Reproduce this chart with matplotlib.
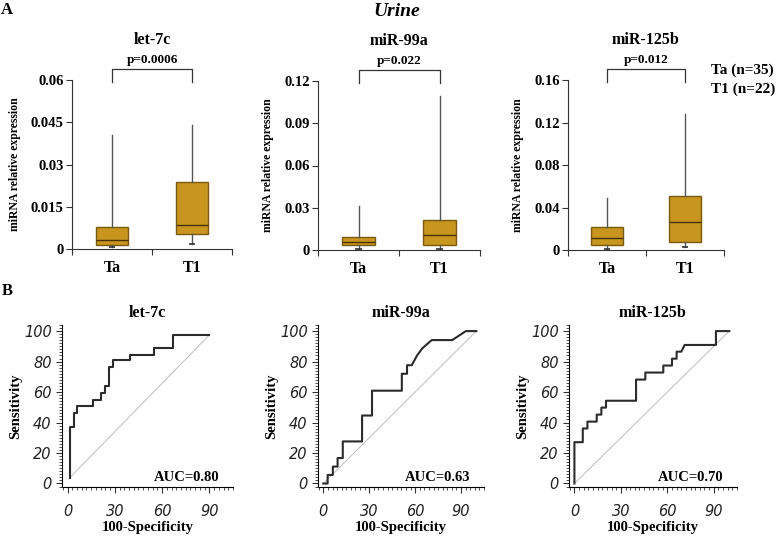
import matplotlib
matplotlib.use('Agg')
import matplotlib.pyplot as plt
from matplotlib.ticker import MultipleLocator

# ---- data ----
groups = ['Ta', 'T1']
mirnas = ['let-7c', 'miR-99a', 'miR-125b']
pvals = ['p=0.0006', 'p=0.022', 'p=0.012']
ymax = [0.06, 0.12, 0.16]
yticks = [[0, 0.015, 0.03, 0.045, 0.06],
          [0, 0.03, 0.06, 0.09, 0.12],
          [0, 0.04, 0.08, 0.12, 0.16]]
ytick_labels = [['0', '0.015', '0.03', '0.045', '0.06'],
                ['0', '0.03', '0.06', '0.09', '0.12'],
                ['0', '0.04', '0.08', '0.12', '0.16']]

# box stats per miRNA: [Ta, T1] -> (whislo, q1, med, q3, whishi)
let7c_box = [(0.0007, 0.0014, 0.0031, 0.0079, 0.0404),
             (0.0018, 0.0052, 0.0085, 0.0239, 0.0439)]
mir99a_box = [(0.0007, 0.0035, 0.0059, 0.0094, 0.0314),
              (0.0009, 0.0033, 0.0106, 0.0213, 0.1094)]
mir125b_box = [(0.0009, 0.0044, 0.0113, 0.0216, 0.0488),
               (0.0028, 0.0078, 0.0266, 0.0507, 0.1284)]
boxes = [let7c_box, mir99a_box, mir125b_box]

# ROC curves (100-specificity, sensitivity)
let7c_fpr = [1.5, 1.5, 4.0, 4.0, 6.1, 6.1, 16.3, 16.3, 21.4, 21.4, 23.9, 23.9,
             26.5, 26.5, 29.0, 29.0, 39.6, 39.6, 54.9, 54.9, 67.1, 67.1, 90.0]
let7c_tpr = [3.9, 37.0, 37.0, 46.0, 46.0, 50.9, 50.9, 54.6, 54.6, 59.2, 59.2, 63.7,
             63.7, 76.3, 76.3, 80.9, 80.9, 84.4, 84.4, 88.9, 88.9, 97.4, 97.4]
mir99a_fpr = [0, 2.8, 2.8, 6.2, 6.2, 9.3, 9.3, 12.7, 12.7, 25.3, 25.3, 31.8, 31.8,
              51.3, 51.3, 54.7, 54.7, 57.8, 61.2, 64.7, 70.8, 84.2, 93.2, 100]
mir99a_tpr = [0, 0, 5.6, 5.6, 11.1, 11.1, 16.7, 16.7, 27.6, 27.6, 44.6, 44.6, 60.9,
              60.9, 72.0, 72.0, 77.6, 77.6, 83.9, 88.7, 94.1, 94.1, 100, 100]
mir125b_fpr = [0, 0, 5.4, 5.4, 8.4, 8.4, 14.4, 14.4, 17.4, 17.4, 20.4, 20.4, 39.8,
               39.8, 45.8, 45.8, 57.4, 57.4, 63.0, 63.0, 66.0, 66.0, 69.0, 71.2,
               91.4, 91.4, 100]
mir125b_tpr = [0, 27.1, 27.1, 36.1, 36.1, 40.6, 40.6, 45.2, 45.2, 49.8, 49.8, 54.3,
               54.3, 68.2, 68.2, 72.8, 72.8, 77.4, 77.4, 81.9, 81.9, 86.5, 86.5, 90.9,
               90.9, 100, 100]
diag_start = [(1.5, 3.9), (0, 0), (0, 0)]
diag_end = [(90, 97.4), (100, 100), (100, 100)]
rocs = [(let7c_fpr, let7c_tpr), (mir99a_fpr, mir99a_tpr), (mir125b_fpr, mir125b_tpr)]
aucs = ['AUC=0.80', 'AUC=0.63', 'AUC=0.70']

W, H = 778, 537
SERIF = 'Liberation Serif'
BOX_FILL = '#c8961e'
BOX_EDGE = '#7a5a12'

fig = plt.figure(figsize=(W / 100, H / 100), dpi=100)


def add_ax(l, t, r, b):
    return fig.add_axes([l / W, 1 - b / H, (r - l) / W, (b - t) / H])


def ftext(x, y, s, **kw):
    fig.text(x / W, 1 - y / H, s, **kw)


# ---- panel A: box plots ----
a_rects = [(72, 80, 232, 249), (318, 81, 480, 250), (568, 80, 724, 250)]
for i, (l, t, r, b) in enumerate(a_rects):
    ax = add_ax(l, t, r, b)
    stats = []
    for g, (lo, q1, med, q3, hi) in zip(groups, boxes[i]):
        stats.append(dict(whislo=lo, q1=q1, med=med, q3=q3, whishi=hi, label=g))
    ax.bxp(stats, positions=[0.5, 1.5], widths=0.4, showcaps=False, showfliers=False,
           patch_artist=True,
           boxprops=dict(facecolor=BOX_FILL, edgecolor=BOX_EDGE, linewidth=1.0),
           medianprops=dict(color='#4a3208', linewidth=1.0),
           whiskerprops=dict(color='#555555', linewidth=1.0))
    # small lower caps
    for pos, st in zip([0.5, 1.5], boxes[i]):
        ax.hlines(st[0], pos - 0.04, pos + 0.04, color='#333333', linewidth=1.2)
    ax.set_xlim(0, 2)
    ax.set_ylim(0, ymax[i])
    ax.set_xticks([0, 1, 2])
    ax.set_xticklabels([])
    ax.set_xticks([0.5, 1.5], minor=True)
    ax.set_xticklabels(groups, minor=True, fontfamily=SERIF, fontweight='bold', fontsize=11.5)
    ax.tick_params(axis='x', which='minor', length=0, pad=8)
    ax.tick_params(axis='x', which='major', length=4, direction='out', color='#333333')
    ax.set_yticks(yticks[i])
    ax.set_yticklabels(ytick_labels[i], fontfamily=SERIF, fontweight='bold', fontsize=10.5)
    ax.tick_params(axis='y', length=4, direction='out', color='#333333', pad=2)
    for s in ['top', 'right']:
        ax.spines[s].set_visible(False)
    for s in ['left', 'bottom']:
        ax.spines[s].set_color('#333333')
    ax.set_ylabel('miRNA relative expression', fontfamily=SERIF, fontweight='bold',
                  fontsize=8.5, labelpad=7)
    ax.set_title(mirnas[i], fontfamily=SERIF, fontweight='bold', fontsize=11.5, pad=26)
    # significance bracket
    top = ymax[i]
    ax.plot([0.5, 0.5, 1.5, 1.5], [top * 0.99, top * 1.065, top * 1.065, top * 0.99],
            color='#333333', linewidth=0.9, clip_on=False)
    ax.text(1.0, top * 1.08, pvals[i], ha='center', va='bottom', fontfamily=SERIF,
            fontweight='bold', fontsize=9.5)

ftext(711, 70, 'Ta (n=35)', ha='left', va='center', fontfamily=SERIF, fontweight='bold', fontsize=11)
ftext(711, 89, 'T1 (n=22)', ha='left', va='center', fontfamily=SERIF, fontweight='bold', fontsize=11)
ftext(397, 11, 'Urine', ha='center', va='center', fontfamily=SERIF, fontweight='bold',
      fontstyle='italic', fontsize=14)
ftext(7, 10, 'A', ha='center', va='center', fontfamily=SERIF, fontweight='bold', fontsize=12)
ftext(7, 291, 'B', ha='center', va='center', fontfamily=SERIF, fontweight='bold', fontsize=12)

# ---- panel B: ROC curves ----
b_rects = [(62, 325, 233, 487), (318, 325, 484, 487), (569, 325, 737, 487)]
for i, (l, t, r, b) in enumerate(b_rects):
    ax = add_ax(l, t, r, b)
    fpr, tpr = rocs[i]
    ax.plot([diag_start[i][0], diag_end[i][0]], [diag_start[i][1], diag_end[i][1]],
            color='#bdbdbd', linewidth=0.7)
    ax.plot(fpr, tpr, color='#2b2b2b', linewidth=1.5)
    ax.set_xlim(-3.5, 105)
    ax.set_ylim(-2.3, 104)
    ax.set_xticks([0, 30, 60, 90])
    ax.set_yticks([0, 20, 40, 60, 80, 100])
    ax.xaxis.set_minor_locator(MultipleLocator(3))
    ax.yaxis.set_minor_locator(MultipleLocator(2))
    ax.tick_params(which='major', length=4, direction='out', color='#333333', labelsize=10.5)
    ax.tick_params(which='minor', length=2, direction='out', color='#333333')
    for lab in ax.get_xticklabels() + ax.get_yticklabels():
        lab.set_fontstyle('italic')
        lab.set_color('#222222')
    ax.tick_params(axis='x', pad=8)
    for s in ['top', 'right']:
        ax.spines[s].set_visible(False)
    ax.set_xlabel('100-Specificity', fontfamily=SERIF, fontweight='bold', fontsize=10.5, labelpad=2)
    ax.set_ylabel('Sensitivity', fontfamily=SERIF, fontweight='bold', fontsize=10.5, labelpad=1)
    ax.set_title(mirnas[i], fontfamily=SERIF, fontweight='bold', fontsize=11.5, pad=6)
    ax.text(0.92, 0.06, aucs[i], transform=ax.transAxes, ha='right', va='center',
            fontfamily=SERIF, fontweight='bold', fontsize=10.5)

fig.savefig('out.png', dpi=100)
